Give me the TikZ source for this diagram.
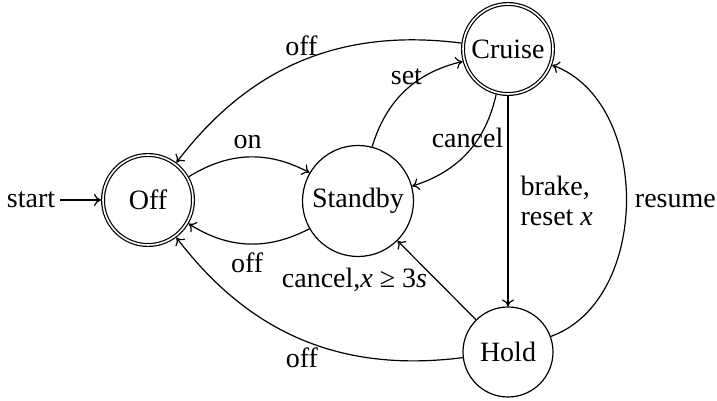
\documentclass[tikz,border=0pt]{standalone}
\usepackage{fontspec}
\setmainfont{Liberation Serif}
\usetikzlibrary{arrows.meta}
\begin{document}
\begin{tikzpicture}[x=1pt,y=1pt,line width=1.2pt,
  >={To[length=7pt,width=12pt]},
  txt/.style={font=\fontsize{28}{30}\selectfont},
  state/.style={circle,draw,txt,minimum size=90pt,inner sep=2pt},
  accept/.style={double,double distance=1.6pt,outer sep=2pt},
  lbl/.style={txt,inner sep=4pt},
  over/.style={lbl,midway,yshift=15pt},
  under/.style={lbl,midway,yshift=-18.5pt},
  every edge/.style={draw,->}]
\useasboundingbox (0,0) rectangle (717,401);

% states
\node[state,accept] (off)     at (148,201) {Off};
\node[state,minimum size=111pt] (standby) at (358,200) {Standby};
\node[state,accept] (cruise)  at (508,352) {Cruise};
\node[state]        (hold)    at (508,49)  {Hold};

% initial marker
\node[lbl] (start) at (31,201) {start};
\draw[->] (start) -- (off);

% transitions
\path (off)     edge[bend left=30]  node[over,xshift=-1pt] {on} (standby)
      (standby) edge[bend left=30]  node[under,xshift=-1pt] {off} (off)
      (standby) edge[bend left=30]  node[over,xshift=1.5pt,yshift=-1pt] {set} (cruise)
      (cruise)  edge[bend left=30]  node[over] {cancel} (standby)
      (cruise)  edge[bend right=30] node[over] {off} (off)
      (cruise)  edge                node[lbl,midway,anchor=west,align=left,xshift=8pt] {brake,\\reset \textit{x}} (hold)
      (hold)    edge[bend right=70] node[lbl,midway,anchor=west,xshift=4pt] {resume} (cruise)
      (hold)    edge                node[lbl,midway,anchor=east,xshift=-5pt] {cancel,\textit{x} ≥ 3\textit{s}} (standby)
      (hold)    edge[bend left=30]  node[under] {off} (off);
\end{tikzpicture}
\end{document}
